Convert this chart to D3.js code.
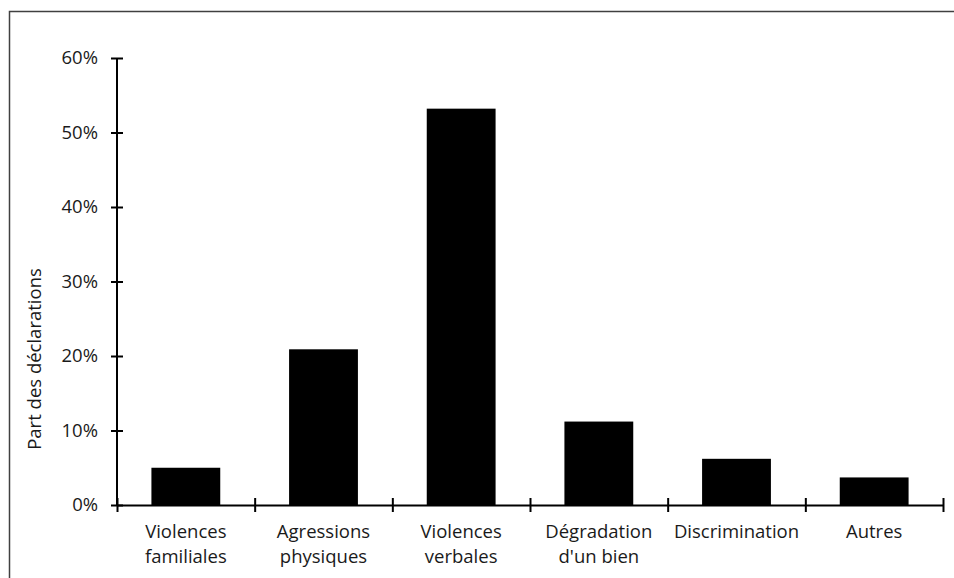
<!DOCTYPE html>
<html><head><meta charset="utf-8">
<script src="https://cdn.jsdelivr.net/npm/d3@7"></script>
<style>body{margin:0;background:#fff}svg{display:block}text{font-family:"Open Sans",sans-serif;fill:#1a1a1a}</style>
</head><body>
<svg id="c" width="954" height="578"></svg>
<script>
const categories = [["Violences","familiales"],["Agressions","physiques"],["Violences","verbales"],["Dégradation","d'un bien"],["Discrimination"],["Autres"]];
const values = [0.05, 0.209, 0.532, 0.112, 0.062, 0.037];
const yTicks = [0, 0.1, 0.2, 0.3, 0.4, 0.5, 0.6];
const yTitle = "Part des déclarations";

const FONT = '"Open Sans",sans-serif';
const FS = 18.5;
const svg = d3.select("#c");
svg.append("rect").attr("x",9.5).attr("y",11.5).attr("width",960).attr("height",600)
  .attr("fill","none").attr("stroke","#404040").attr("stroke-width",1.5);

const x0 = 117, x1 = 943, yTop = 58, yBot = 505;
const x = d3.scaleBand().domain(d3.range(categories.length)).range([x0,x1]).paddingInner(0.5).paddingOuter(0.25);
const xe = d3.scaleLinear().domain([0,categories.length]).range([x0,x1]);
const y = d3.scaleLinear().domain([0,0.6]).range([yBot,yTop]);

svg.append("g").selectAll("rect").data(values).join("rect")
  .attr("x",(d,i)=>x(i)).attr("width",x.bandwidth())
  .attr("y",d=>y(d)).attr("height",d=>yBot-y(d)).attr("fill","#000");

// y axis
const ya = svg.append("g").attr("transform",`translate(${x0},0)`)
  .call(d3.axisLeft(y).tickValues(yTicks).tickFormat(d3.format(".0%")).tickSize(6).tickSizeOuter(0).tickPadding(13));
ya.attr("font-family",FONT).attr("font-size",FS);
ya.select(".domain").attr("stroke","#000").attr("stroke-width",2).attr("d",`M0,${yTop}V${yBot}`);
ya.selectAll(".tick line").attr("stroke","#000").attr("stroke-width",2).attr("x1",6).attr("x2",-6);
ya.selectAll(".tick text").attr("fill","#1a1a1a");

// x axis
const xa = svg.append("g").attr("transform",`translate(0,${yBot})`)
  .call(d3.axisBottom(xe).tickValues(d3.range(categories.length+1)).tickFormat("").tickSize(7).tickSizeOuter(0));
xa.select(".domain").attr("stroke","#000").attr("stroke-width",2);
xa.selectAll(".tick line").attr("stroke","#000").attr("stroke-width",2).attr("y1",-7).attr("y2",7);

svg.append("g").attr("font-family",FONT).attr("font-size",FS).selectAll("text").data(categories).join("text")
  .attr("x",(d,i)=>x(i)+x.bandwidth()/2).attr("y",538)
  .attr("text-anchor","middle")
  .each(function(d){
    const t=d3.select(this);
    d.forEach((s,k)=>t.append("tspan").attr("x",t.attr("x")).attr("dy",k?25:0).text(s));
  });

svg.append("text").attr("transform","translate(41,359) rotate(-90)")
  .attr("font-family",FONT).attr("font-size",FS)
  .attr("text-anchor","middle").text(yTitle);
</script>
</body></html>
